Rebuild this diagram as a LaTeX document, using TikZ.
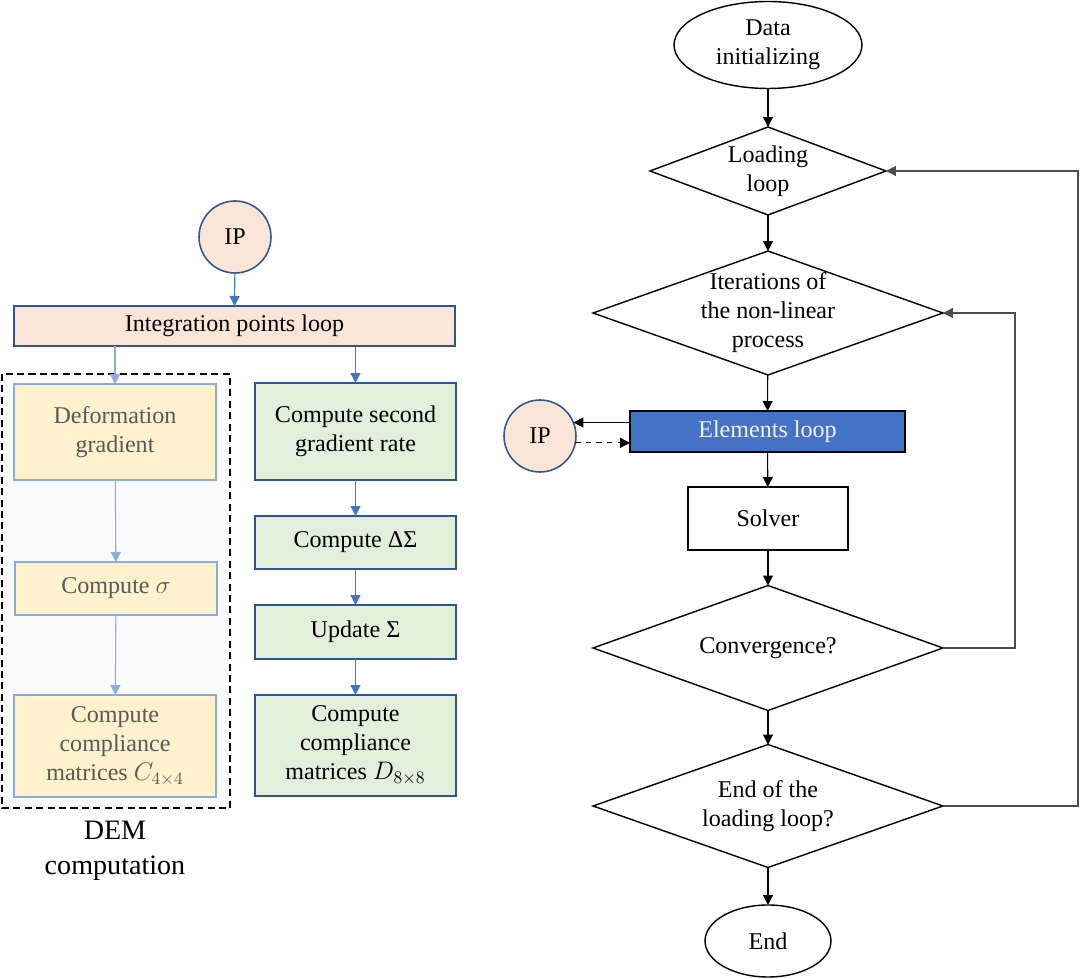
\documentclass[tikz,border=0pt]{standalone}
\usepackage{fontspec}
\setmainfont{Liberation Serif}
\usetikzlibrary{shapes.geometric,arrows.meta}
\definecolor{peach}{HTML}{FBE5D6}
\definecolor{darkblue}{HTML}{2F5597}
\definecolor{lightblue}{HTML}{8FAADC}
\definecolor{midblue}{HTML}{4472C4}
\definecolor{paleyellow}{HTML}{FFF2CC}
\definecolor{palegreen}{HTML}{E2EFDA}
\definecolor{greytext}{HTML}{595959}
\begin{document}
\begin{tikzpicture}[x=0.02cm,y=-0.02cm,
  every node/.style={font=\fontsize{13.7}{16.5}\selectfont, align=center, inner sep=0pt, outer sep=0pt},
  ipc/.style={circle, draw=darkblue, line width=0.9pt, fill=peach, minimum size=1.44cm},
  ybox/.style={draw=lightblue, line width=0.9pt, fill=paleyellow, text=greytext, minimum width=4.04cm},
  gbox/.style={draw=darkblue, line width=0.9pt, fill=palegreen, minimum width=4.02cm},
  dec/.style={diamond, draw, line width=0.8pt, inner sep=-3pt, aspect=2.82, minimum width=7cm, minimum height=2.48cm},
  term/.style={ellipse, draw, line width=0.8pt},
  arr/.style={-{Triangle[length=2mm,width=2mm]}, line width=0.6pt},
  larr/.style={arr, lightblue},
  barr/.style={arr, midblue}]
\useasboundingbox (0,0) rectangle (1080,979);
% left: integration points
\draw[dash pattern=on 4pt off 2.5pt, line width=0.9pt, fill={rgb,255:red,250;green,250;blue,250}] (2,374) rectangle (230,808);
\node[ipc] (ip1) at (235,237) {IP};
\node[draw=darkblue, line width=0.9pt, fill=peach, minimum width=8.82cm, minimum height=0.8cm] (ipl) at (234.5,326) {Integration points loop};
\node[ybox, minimum height=1.92cm] (def) at (115,432) {Deformation\\gradient};
\node[ybox, minimum height=1.06cm] (sig) at (116,588.5) {Compute $\sigma$};
\node[ybox, minimum height=2.04cm] (cc) at (115,746) {Compute\\compliance\\matrices $C_{4\times4}$};
\node[gbox, minimum height=1.94cm] (sec) at (355.5,431.5) {Compute second\\gradient rate};
\node[gbox, minimum height=1.06cm] (ds) at (355.5,542.5) {Compute ΔΣ};
\node[gbox, minimum height=1.08cm] (us) at (355.5,632) {Update Σ};
\node[gbox, minimum height=2.02cm] (cd) at (355.5,745.5) {Compute\\compliance\\matrices $D_{8\times8}$};
\node[font=\fontsize{16}{20}\selectfont] (dem) at (115,851) {DEM\\computation};
\draw[barr] (ip1) -- (ipl);
\draw[larr] (ipl.south -| def.north) -- (def.north);
\draw[larr] (def) -- (sig);
\draw[larr] (sig) -- (cc);
\draw[barr] (ipl.south -| sec.north) -- (sec.north);
\draw[barr] (sec) -- (ds);
\draw[barr] (ds) -- (us);
\draw[barr] (us) -- (cd);
% right: main flow
\node[term, minimum width=3.76cm, minimum height=1.74cm] (a) at (768,45) {Data\\initializing};
\node[dec, aspect=2.68, minimum width=4.72cm, minimum height=1.76cm] (b) at (768,171) {Loading\\loop};
\node[dec] (c) at (768,313) {Iterations of\\the non-linear\\process};
\node[draw, line width=0.9pt, fill=midblue, text={rgb,255:red,242;green,242;blue,242}, minimum width=5.5cm, minimum height=0.82cm] (d) at (767.5,431.5) {Elements loop};
\node[ipc] (ip2) at (540,436) {IP};
\node[draw, line width=0.8pt, minimum width=3.2cm, minimum height=1.26cm] (e) at (768,518.5) {Solver};
\node[dec, aspect=2.8, minimum height=2.5cm] (f) at (768,648) {Convergence?};
\node[dec, aspect=2.85, minimum height=2.46cm] (g) at (768,806) {End of the\\loading loop?};
\node[term, minimum width=2.52cm, minimum height=1.44cm] (h) at (768,941) {End};
\draw[arr] (a) -- (b);
\draw[arr] (b) -- (c);
\draw[arr] (c) -- (d);
\draw[arr] (d) -- (e);
\draw[arr] (e) -- (f);
\draw[arr] (f) -- (g);
\draw[arr] (g) -- (h);
\draw[arr] (d.west |- ip2.22) -- (ip2.22);
\draw[arr, dashed] (ip2.-11) -- (d.west |- ip2.-11);
\draw[arr, black!70] (f.east) -- (1015,648) |- (c.east);
\draw[arr, black!70] (g.east) -- (1078,806) |- (b.east);
\end{tikzpicture}
\end{document}
